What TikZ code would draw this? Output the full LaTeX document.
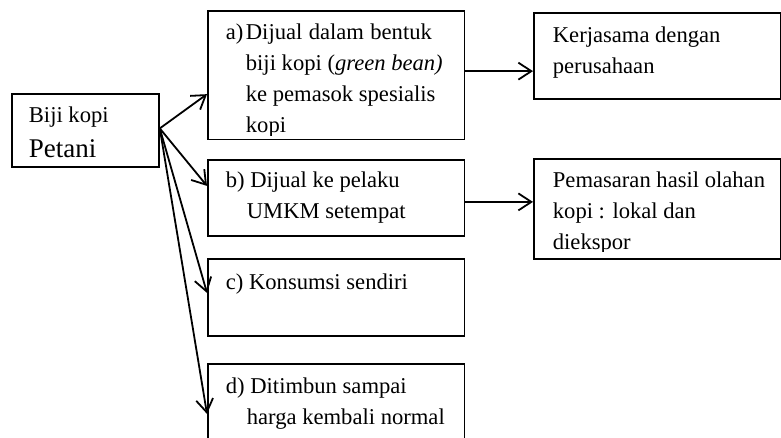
\documentclass[tikz,border=0pt]{standalone}
\usepackage{fontspec}
\setmainfont{Liberation Serif}
\usetikzlibrary{arrows.meta}

\begin{document}
\begin{tikzpicture}[x=1pt, y=-1pt, line width=1.8pt, >={Straight Barb[length=13pt,width=17pt]},
    kotak/.style={draw, anchor=north west, inner sep=0pt, minimum width=256.5pt},
    isi/.style={anchor=base west, inner sep=0pt, font=\fontsize{22.6}{31}\selectfont}]
  \clip (0,0) rectangle (781,437);
  % kotak-kotak
  \node[kotak, minimum width=147pt, minimum height=73pt] (petani) at (11,93) {};
  \node[kotak, minimum height=128.5pt] (a) at (207,10) {};
  \node[kotak, minimum height=76pt] (b) at (207,159) {};
  \node[kotak, minimum height=77pt] (c) at (207,258) {};
  \node[kotak, minimum height=107pt] (d) at (207,363) {};
  \node[kotak, minimum width=246.5pt, minimum height=86pt] (kerja) at (533,12) {};
  \node[kotak, minimum width=246.5pt, minimum height=100pt] (pasar) at (533,158) {};
  % teks
  \node[isi] (tpetani) at (28,122) {\parbox[t]{120pt}{Biji kopi\\[4pt]{\fontsize{27}{31}\selectfont Petani}}};
  \begin{scope}
    \clip (a.north west) rectangle ([yshift=5pt]a.south east);
    \node[isi] (ta) at (225,39) {\parbox[t]{235pt}{\makebox[20pt][l]{a)}\makebox[186pt][s]{Dijual dalam bentuk}\\
      \hspace*{20pt}biji kopi (\textit{green bean)}\\
      \hspace*{20pt}ke pemasok spesialis\\
      \hspace*{20pt}kopi}};
  \end{scope}
  \node[isi] (tb) at (225,187) {\parbox[t]{235pt}{b) Dijual ke pelaku\\
    \hspace*{21pt}UMKM setempat}};
  \node[isi] (tc) at (225,289) {\parbox[t]{235pt}{c) Konsumsi sendiri}};
  \node[isi] (td) at (225,393) {\parbox[t]{235pt}{d) Ditimbun sampai\\
    \hspace*{21pt}harga kembali normal}};
  \node[isi] (tkerja) at (552,42) {\parbox[t]{225pt}{Kerjasama dengan\\perusahaan}};
  \begin{scope}
    \clip (pasar.north west) rectangle ([yshift=8pt]pasar.south east);
    \node[isi] (tpasar) at (552,187) {\parbox[t]{225pt}{Pemasaran hasil olahan\\kopi : lokal dan\\diekspor}};
  \end{scope}
  % panah
  \coordinate (asal) at ([yshift=2pt]petani.east);
  \draw[->] (asal) -- ([yshift=-19pt]a.west);
  \draw[->] (asal) -- ([yshift=12pt]b.west);
  \draw[->] (asal) -- ([yshift=4.5pt]c.west);
  \draw[->] (asal) -- ([yshift=3.5pt]d.west);
  \draw[->] ([yshift=4pt]a.east) -- ([yshift=4pt]a.east -| kerja.west);
  \draw[->] ([yshift=-4pt]b.east) -- ([yshift=-4pt]b.east -| pasar.west);
\end{tikzpicture}
\end{document}
